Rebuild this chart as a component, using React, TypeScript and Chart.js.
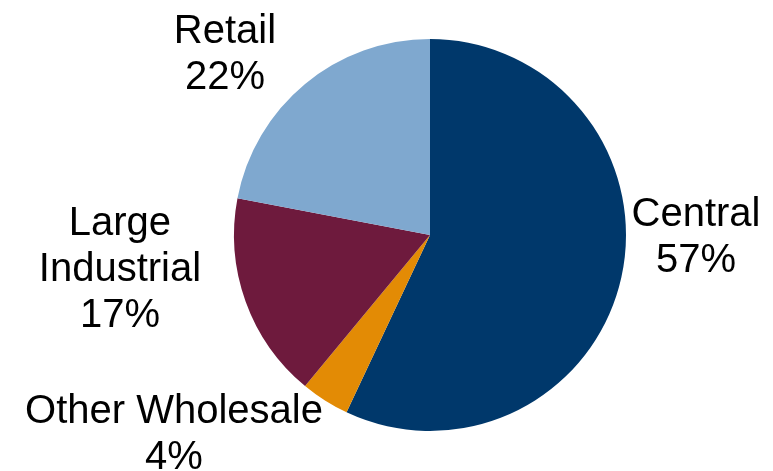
import React, { useEffect, useRef } from "react";
import { Chart, registerables } from "chart.js";

Chart.register(...registerables);

const categories = ["Central", "Other Wholesale", "Large Industrial", "Retail"];
const shares = [57, 4, 17, 22];
const sliceColors = ["#00386B", "#E38B05", "#6E1A3D", "#7FA8CF"];
// label block placement relative to pie center, in units of radius (x = block center, y = first baseline)
const labelAnchors = [
  [1.357, -0.046],
  [-1.306, 0.959],
  [-1.582, 0],
  [-1.046, -0.98],
];

const labelPlugin = {
  id: "pieLabels",
  afterDatasetsDraw(chart: any) {
    const meta = chart.getDatasetMeta(0);
    const ctx = chart.ctx;
    ctx.save();
    ctx.font = '40px "Liberation Sans", Arial, sans-serif';
    ctx.fillStyle = "#000000";
    ctx.textAlign = "center";
    ctx.textBaseline = "alphabetic";
    meta.data.forEach((arc: any, i: number) => {
      const { x, y, outerRadius } = arc.getProps(["x", "y", "outerRadius"], true);
      const [ax, ay] = labelAnchors[i];
      const cx = x + ax * outerRadius;
      const by = y + ay * outerRadius;
      let words: string[] = [];
      const name = categories[i];
      if (name === "Large Industrial") words = ["Large", "Industrial"];
      else words = [name];
      const lines = [...words, shares[i] + "%"];
      lines.forEach((ln, k) => ctx.fillText(ln, cx, by + k * 46));
    });
    ctx.restore();
  },
};

export default function App() {
  const ref = useRef<HTMLCanvasElement | null>(null);
  useEffect(() => {
    document.body.style.margin = "0";
    const chart = new Chart(ref.current as HTMLCanvasElement, {
      type: "pie",
      data: {
        labels: categories,
        datasets: [
          {
            data: shares,
            backgroundColor: sliceColors,
            borderWidth: 0,
          },
        ],
      },
      options: {
        responsive: false,
        animation: false,
        layout: { padding: { top: 39, bottom: 40, left: 234, right: 147 } },
        plugins: {
          legend: { display: false },
          tooltip: { enabled: false },
        },
      },
      plugins: [labelPlugin],
    });
    return () => chart.destroy();
  }, []);
  return (
    <div style={{ width: 773, height: 471, background: "#fff" }}>
      <canvas ref={ref} width={773} height={471} />
    </div>
  );
}
